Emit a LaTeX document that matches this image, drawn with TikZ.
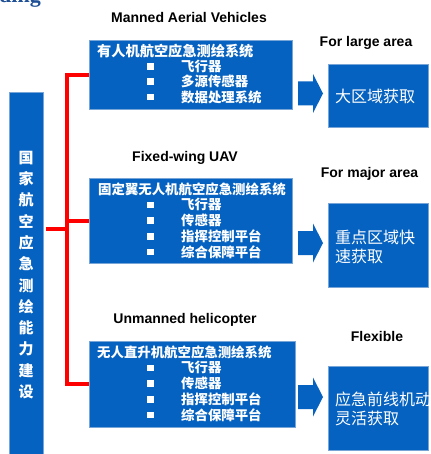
\documentclass[tikz,border=0pt]{standalone}
\usepackage{fontspec}
\setmainfont{Liberation Sans}
\newfontfamily\cjk{Noto Sans CJK SC}
\newfontfamily\headserif{Liberation Serif}
\usetikzlibrary{calc}
\definecolor{boxblue}{RGB}{6,98,192}
\definecolor{edgeblue}{RGB}{120,165,215}
\definecolor{headblue}{RGB}{31,80,150}
\tikzset{
  % boxes
  sysbox/.style={draw=edgeblue,fill=boxblue,line width=0.8pt,anchor=north west,
    minimum width=203,minimum height=#1,inner sep=0pt},
  areabox/.style={draw=edgeblue,fill=boxblue,line width=0.8pt,anchor=north west,
    minimum width=100,minimum height=#1,inner sep=0pt},
  sidebox/.style={draw=edgeblue,fill=boxblue,line width=0.8pt,minimum width=34,
    minimum height=366,inner sep=0pt,text=white,align=center,
    font=\fontsize{15}{21.3}\selectfont\cjk\bfseries},
  % texts
  systitle/.style={anchor=west,inner sep=0pt,text=white,
    font=\fontsize{13.4}{15.7}\selectfont\cjk\bfseries},
  sysitem/.style={anchor=west,inner sep=0pt,text=white,
    font=\fontsize{13.4}{15.7}\selectfont\cjk\bfseries},
  areatext/.style={anchor=west,inner sep=0pt,text=white,align=left,
    font=\fontsize{16}{19.5}\selectfont\cjk},
  lbl/.style={inner sep=0pt,font=\fontsize{14}{16}\selectfont\bfseries},
  sqbullet/.style={fill=white,minimum size=6.5,inner sep=0pt},
  % connectors
  bracket/.style={draw=red,line width=4pt},
}
% block arrow round a named coordinate
\newcommand{\blockarrow}[1]{%
  \fill[boxblue,shift={(#1)}] (-12.5,-12) -- (2.5,-12) -- (2.5,-19.5) -- (12.5,0)
    -- (2.5,19.5) -- (2.5,12) -- (-12.5,12) -- cycle;}

\begin{document}
\begin{tikzpicture}[x=1pt,y=-1pt]
  \useasboundingbox (0,0) rectangle (430,454);
  \clip (0,0) rectangle (430,454);

  \node[anchor=base west,inner sep=0pt,text=headblue,
    font=\fontsize{22}{24}\selectfont\headserif\bfseries] (head) at (-1,3) {ding};

  % left column
  \node[sidebox] (cap) at (26,275) {国\\家\\航\\空\\应\\急\\测\\绘\\能\\力\\建\\设};

  % manned aerial vehicles
  \node[lbl] (manned-l) at (189,17) {Manned Aerial Vehicles};
  \node[sysbox=69] (manned) at (89,40) {};
  \node[systitle,font=\fontsize{14.2}{15.7}\selectfont\cjk\bfseries] (manned-t)
    at ($(manned.north west)+(8,11)$) {有人机航空应急测绘系统};
  \foreach \txt [count=\i] in {飞行器,多源传感器,数据处理系统}{
    \node[sqbullet] (manned-b\i) at ($(manned-t.west)+(53.5,15.3*\i)$) {};
    \node[sysitem] (manned-i\i) at ($(manned-t.west)+(84,15.3*\i)$) {\txt};
  }

  % fixed-wing
  \node[lbl] (fixed-l) at (185,158) {Fixed-wing UAV};
  \node[sysbox=85] (fixed) at (89,178) {};
  \node[systitle] (fixed-t) at ($(fixed.north west)+(9,11)$) {固定翼无人机航空应急测绘系统};
  \foreach \txt [count=\i] in {飞行器,传感器,指挥控制平台,综合保障平台}{
    \node[sqbullet] (fixed-b\i) at ($(fixed-t.west)+(52.5,15.75*\i)$) {};
    \node[sysitem] (fixed-i\i) at ($(fixed-t.west)+(83,15.75*\i)$) {\txt};
  }

  % helicopter
  \node[lbl] (heli-l) at (185,320) {Unmanned helicopter};
  \node[sysbox=86,minimum width=206] (heli) at (89,341) {};
  \node[systitle] (heli-t) at ($(heli.north west)+(8,11)$) {无人直升机航空应急测绘系统};
  \foreach \txt [count=\i] in {飞行器,传感器,指挥控制平台,综合保障平台}{
    \node[sqbullet] (heli-b\i) at ($(heli-t.west)+(53.5,15.75*\i)$) {};
    \node[sysitem] (heli-i\i) at ($(heli-t.west)+(84,15.75*\i)$) {\txt};
  }

  % results
  \node[lbl] (large-l) at (366,43) {For large area};
  \node[areabox=63] (large) at (328,64) {};
  \node[areatext] (large-t) at ($(large.west)+(7,0.5)$) {大区域获取};

  \node[lbl] (major-l) at (369.5,174) {For major area};
  \node[areabox=84] (major) at (328,203) {};
  \node[areatext] (major-t) at ($(major.west)+(7,1.5)$) {重点区域快\\速获取};

  \node[lbl] (flex-l) at (377,336) {Flexible};
  \node[areabox=84] (flex) at (328,366) {};
  \node[areatext] (flex-t) at ($(flex.west)+(7,0.5)$) {应急前线机动\\灵活获取};

  % arrows
  \coordinate (arr1) at (310.5,93.5);
  \coordinate (arr2) at (310.5,243);
  \coordinate (arr3) at (310.5,397);
  \blockarrow{arr1}
  \blockarrow{arr2}
  \blockarrow{arr3}

  % red bracket
  \coordinate (fork) at (67,229);
  \draw[bracket] ($(cap.east |- fork)+(3,0)$) -- (fork);
  \draw[bracket] (manned.west) -- (manned.west -| fork) -- (heli.west -| fork) -- (heli.west);
  \draw[bracket] (fixed.west -| fork) -- (fixed.west);
\end{tikzpicture}
\end{document}
